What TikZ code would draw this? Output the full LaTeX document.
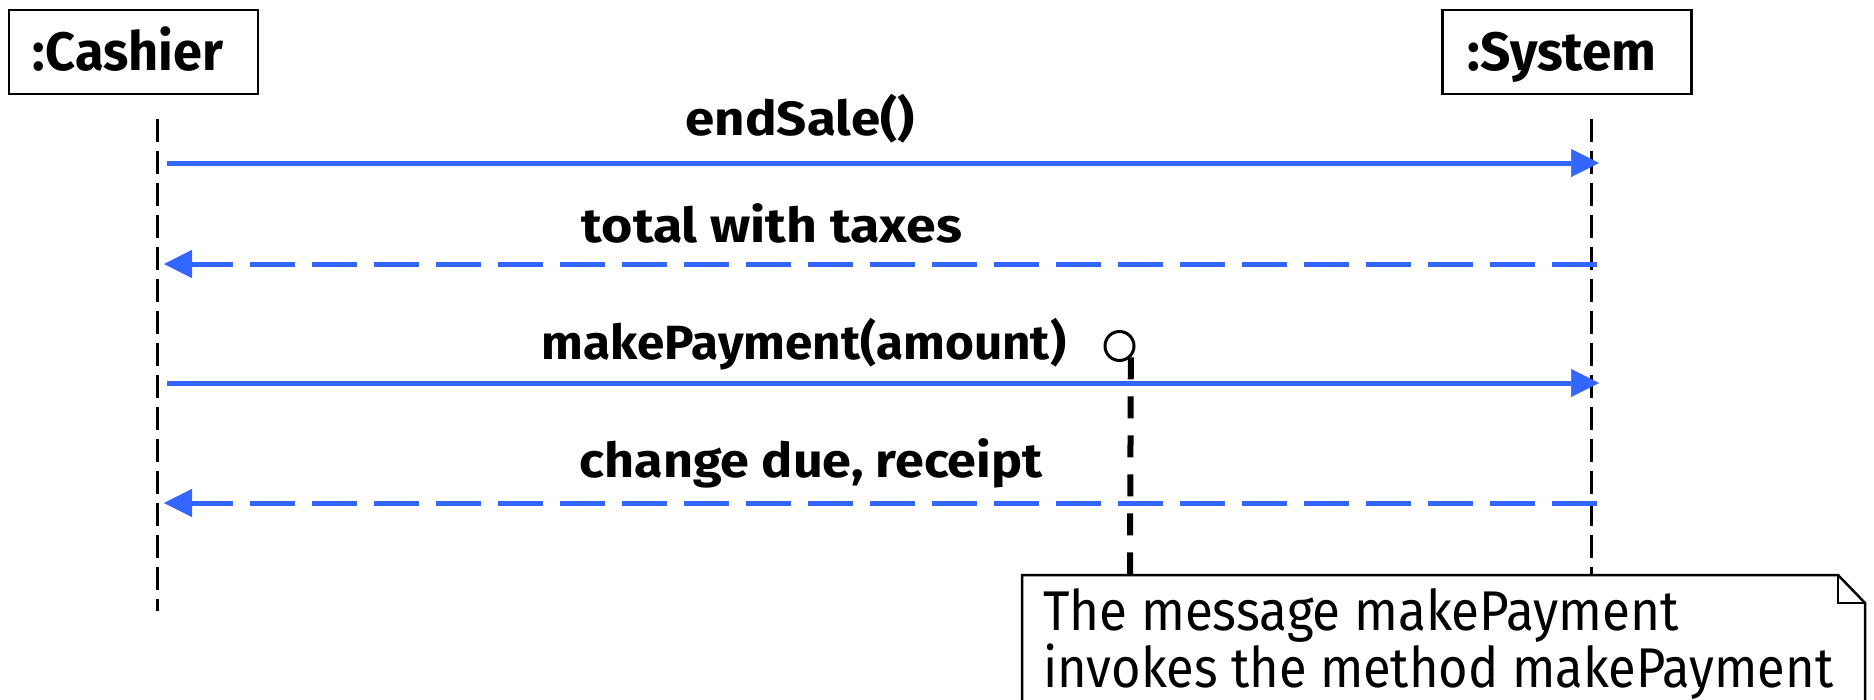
\documentclass[tikz,border=0pt]{standalone}
\usepackage{fontspec}
\setmainfont{Fira Sans}
\usepackage{graphicx}
\usetikzlibrary{arrows.meta}
\definecolor{msgblue}{RGB}{51,102,255}
\tikzset{
  headbox/.style={draw=black, line width=2.5pt, minimum width=249pt, minimum height=84pt, inner sep=0pt},
  headlbl/.style={font=\fontsize{54}{58}\selectfont\bfseries, anchor=base, inner sep=0pt},
  lifeline/.style={draw=black, line width=3pt, dash pattern=on 23pt off 9pt},
  callmsg/.style={draw=msgblue, line width=5pt, -{Triangle[length=28pt,width=28pt,line width=0.5pt]}},
  replymsg/.style={callmsg, dash pattern=on 45pt off 17pt},
  msglbl/.style={font=\fontsize{48}{52}\selectfont\bfseries, anchor=base, inner sep=0pt},
  notelbl/.style={font=\fontsize{56}{60}\selectfont, anchor=base west, inner sep=0pt},
  notebox/.style={draw=black, line width=2.5pt, line join=miter},
  anchorring/.style={draw=black, line width=3pt, circle, minimum size=29pt, inner sep=0pt},
  anchorline/.style={draw=black, line width=6pt, dash pattern=on 22pt off 17pt}
}
\begin{document}
\begin{tikzpicture}[x=1pt,y=-1pt]
\useasboundingbox (0,0) rectangle (1874,699);
% heads
\node[headbox] (cashier) at (133.5,52) {};
\node[headbox] (system) at (1567,52) {};
\node[headlbl] (cashierlbl) at (128,70) {\resizebox{190pt}{\height}{:Cashier}};
\node[headlbl] (systemlbl) at (1562,70) {\resizebox{189pt}{\height}{:System}};
% lifeline coordinates
\coordinate (ctop) at (157,119);
\coordinate (cbot) at (157,611);
\coordinate (stop) at (1591,119);
\coordinate (sbot) at (1591,575);
\draw[lifeline] (ctop) -- (cbot);
\draw[lifeline] (stop) -- (sbot);
% message endpoints
\coordinate (m1a) at (167,163);  \coordinate (m1b) at (1599,163);
\coordinate (m2a) at (1597,264); \coordinate (m2b) at (164,264);
\coordinate (m3a) at (167,383);  \coordinate (m3b) at (1599,383);
\coordinate (m4a) at (1597,503); \coordinate (m4b) at (164,503);
\draw[callmsg] (m1a) -- (m1b);
\draw[replymsg] (m2a) -- (m2b);
\draw[callmsg] (m3a) -- (m3b);
\draw[replymsg] (m4a) -- (m4b);
% labels
\node[msglbl] (l1) at (800,135) {\resizebox{229pt}{\height}{endSale()}};
\node[msglbl] (l2) at (772,242) {\resizebox{380pt}{\height}{total with taxes}};
\node[msglbl] (l3) at (804,359) {\resizebox{524pt}{\height}{makePayment(amount)}};
\node[msglbl] (l4) at (811,477) {\resizebox{463pt}{\height}{change due, receipt}};
% note anchor
\node[anchorring] (ring) at (1119.5,346) {};
\coordinate (notetop) at (1130,575);
\draw[anchorline] (ring.-45) -- (notetop);
% note
\draw[notebox] (1022,720) -- (1022,575) -- (1838,575) -- (1865,603) -- (1865,720);
\draw[notebox] (1838,575) -- (1838,603) -- (1865,603);
\node[notelbl] (n1) at (1043,630) {\resizebox{636pt}{\height}{The message makePayment}};
\node[notelbl] (n2) at (1043,687) {\resizebox{790pt}{\height}{invokes the method makePayment}};
\end{tikzpicture}
\end{document}
